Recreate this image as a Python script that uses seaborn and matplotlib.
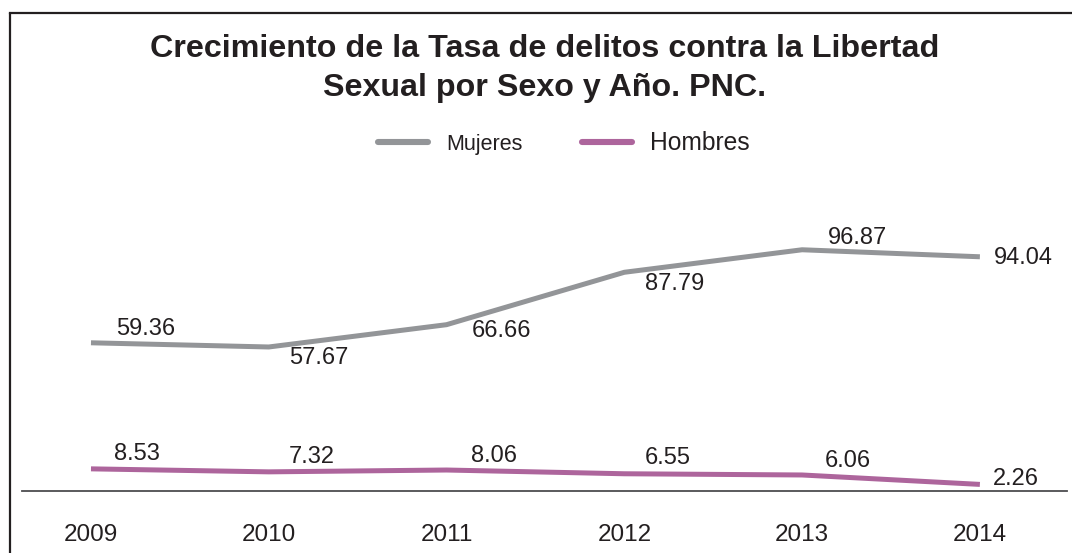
import matplotlib
matplotlib.use("Agg")
import matplotlib.pyplot as plt
from matplotlib.lines import Line2D
import seaborn as sns
import pandas as pd

# ---- data ----
years = ["2009", "2010", "2011", "2012", "2013", "2014"]
mujeres = [59.36, 57.67, 66.66, 87.79, 96.87, 94.04]
hombres = [8.53, 7.32, 8.06, 6.55, 6.06, 2.26]
series_names = ["Mujeres", "Hombres"]
title_lines = ["Crecimiento de la Tasa de delitos contra la Libertad",
               "Sexual por Sexo y Año. PNC."]

# label offsets (pixels) relative to each point
off_m = [(55, 14), (50, -11), (55, -6), (50, -12), (55, 12), (43, -1)]
off_h = [(46, 15), (43, 15), (47, 14), (43, 16), (46, 14), (36, 5)]

df = pd.DataFrame({
    "Año": years * 2,
    "Tasa": mujeres + hombres,
    "Sexo": [series_names[0]] * len(years) + [series_names[1]] * len(years),
})

sns.set_theme(style="white")
plt.rcParams["font.family"] = ["Liberation Sans", "DejaVu Sans"]
TXT = "#231F20"
GRAY = "#939598"
PURPLE = "#AD659C"

fig = plt.figure(figsize=(10.72, 5.53), dpi=100)
ax = fig.add_axes([22 / 1072, 62 / 553, (1067 - 22) / 1072, 249 / 553])

sns.lineplot(data=df, x="Año", y="Tasa", hue="Sexo", sort=False,
             palette={series_names[0]: GRAY, series_names[1]: PURPLE},
             linewidth=3.6, ax=ax, legend=True)
for ln in ax.lines:
    ln.set_solid_joinstyle("round")
    ln.set_solid_capstyle("butt")

ax.set_xlim(-0.388, 5.49)
ax.set_ylim(-0.4, 100)
ax.set_xlabel("")
ax.set_ylabel("")
ax.set_yticks([])
for s in ["top", "right", "left"]:
    ax.spines[s].set_visible(False)
ax.spines["bottom"].set_color("#4D4D4F")
ax.spines["bottom"].set_linewidth(1.3)
ax.tick_params(axis="x", length=0, pad=24, labelsize=17.5, colors=TXT)
ax.set_facecolor("none")

for i, (v, o) in enumerate(zip(mujeres, off_m)):
    ax.annotate(f"{v:.2f}", xy=(i, v), xytext=o, textcoords="offset pixels",
                ha="center", va="center", fontsize=17, color=TXT,
                annotation_clip=False)
for i, (v, o) in enumerate(zip(hombres, off_h)):
    ax.annotate(f"{v:.2f}", xy=(i, v), xytext=o, textcoords="offset pixels",
                ha="center", va="center", fontsize=17, color=TXT,
                annotation_clip=False)

# legend
leg = ax.legend(loc="center left", bbox_to_anchor=(378 / 1072, 1 - 143 / 553),
                bbox_transform=fig.transFigure, ncol=2, frameon=False,
                fontsize=17, handlelength=2.12, handletextpad=0.75,
                columnspacing=2.55, borderpad=0, borderaxespad=0, title=None)
for t in leg.get_texts():
    t.set_color(TXT)
leg.get_texts()[0].set_fontsize(15.5)
leg.get_texts()[1].set_fontsize(17.7)
for h in leg.legend_handles:
    h.set_linewidth(4.4)
    h.set_solid_capstyle("round")

# title
fig.text(545 / 1072, 1 - 57 / 553, title_lines[0], ha="center", va="baseline",
         fontsize=23.2, fontweight="bold", color=TXT)
fig.text(545 / 1072, 1 - 96 / 553, title_lines[1], ha="center", va="baseline",
         fontsize=23.2, fontweight="bold", color=TXT)

# outer frame (left and top edges visible)
fig.add_artist(Line2D([9.5 / 1072, 9.5 / 1072], [0, 1 - 12.5 / 553],
                      transform=fig.transFigure, color=TXT, linewidth=1.6))
fig.add_artist(Line2D([9.5 / 1072, 1.0], [1 - 12.5 / 553, 1 - 12.5 / 553],
                      transform=fig.transFigure, color=TXT, linewidth=1.6,
                      solid_capstyle="projecting"))

fig.savefig("out.png", dpi=100)
